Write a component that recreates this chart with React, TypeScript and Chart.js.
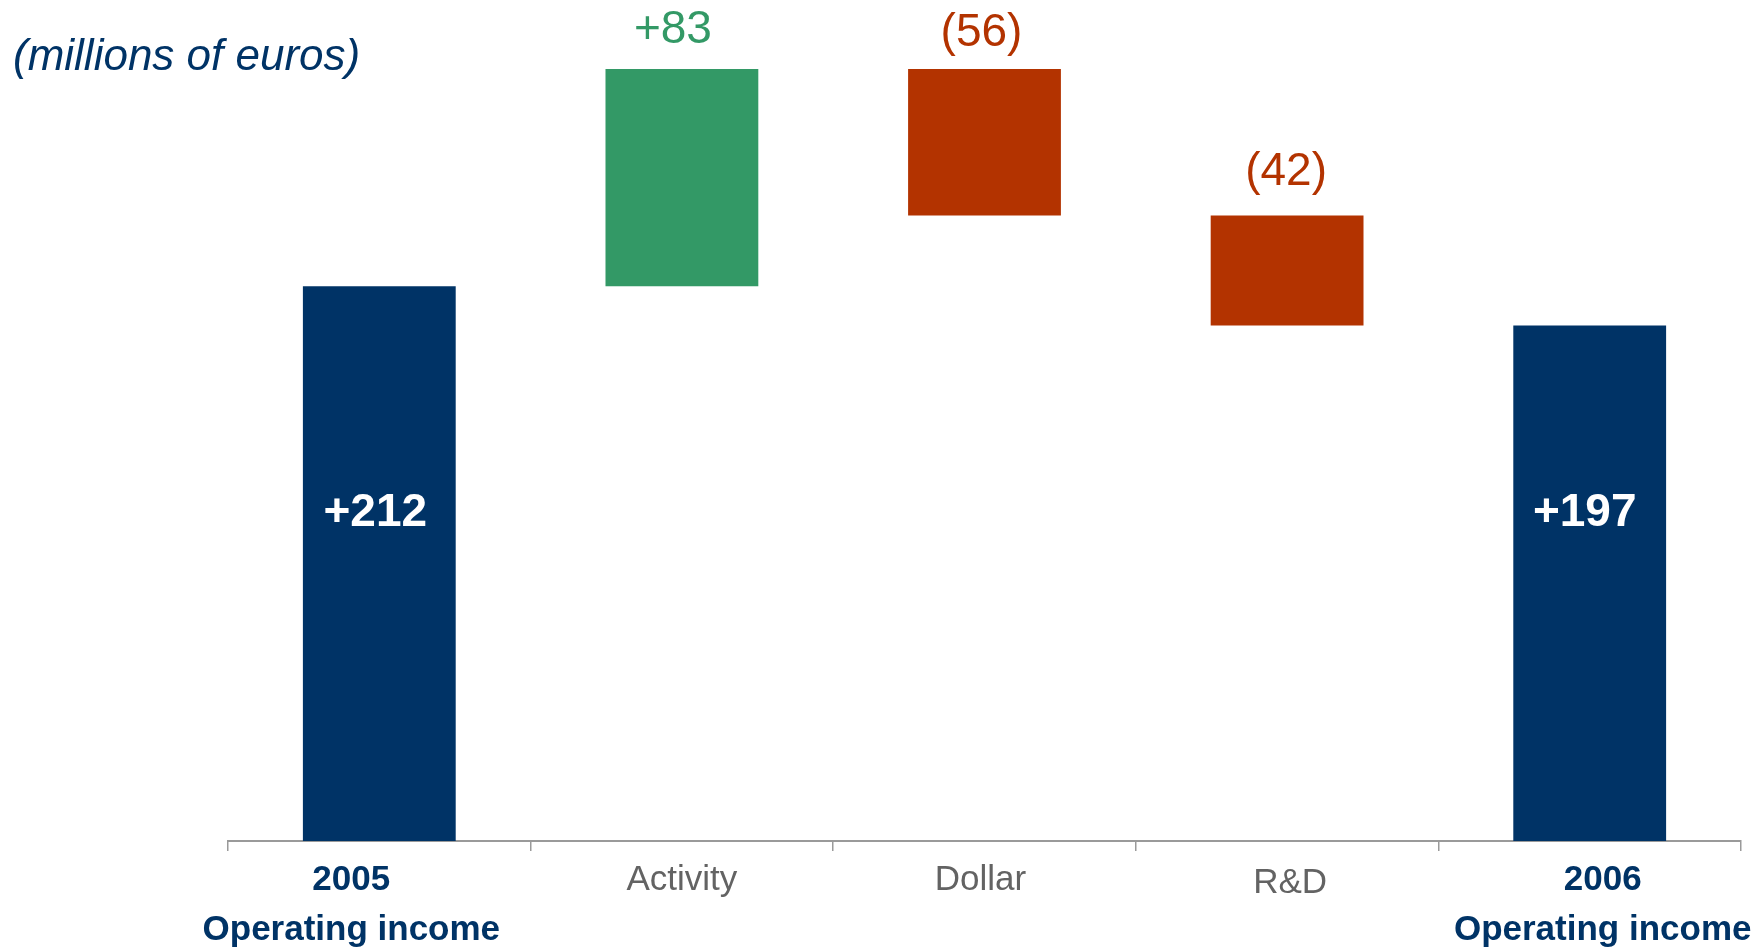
import React, { useEffect, useRef } from "react";
import { Chart, registerables } from "chart.js";

Chart.register(...registerables);

// ---- data ----
const categoryLines: string[][] = [
  ["2005", "Operating income"],
  ["Activity"],
  ["Dollar"],
  ["R&D"],
  ["2006", "Operating income"],
];
const openingIncome = 212;
const changes = [83, -56, -42];
const closingIncome = 197;
const valueLabels = ["+212", "+83", "(56)", "(42)", "+197"];
const unitLabel = "(millions of euros)";

// ---- styles ----
const NAVY = "#003366";
const GREEN = "#339966";
const RED = "#B33300";
const GRAY_TEXT = "#636363";
const AXIS = "#9a9a9a";
const FONT = "'Liberation Sans', Arial, Helvetica, sans-serif";

function buildBars(): [number, number][] {
  const bars: [number, number][] = [[0, openingIncome]];
  let level = openingIncome;
  for (const c of changes) {
    const next = level + c;
    bars.push([Math.min(level, next), Math.max(level, next)]);
    level = next;
  }
  bars.push([0, closingIncome]);
  return bars;
}

function buildColors(): string[] {
  return [NAVY, ...changes.map((c) => (c >= 0 ? GREEN : RED)), NAVY];
}

const labelsPlugin = {
  id: "waterfallLabels",
  afterDatasetsDraw(chart: any) {
    const ctx: CanvasRenderingContext2D = chart.ctx;
    const meta = chart.getDatasetMeta(0);
    const xScale = chart.scales.x;
    const area = chart.chartArea;
    const n = meta.data.length;
    ctx.save();

    // unit label
    ctx.font = `italic 44px ${FONT}`;
    ctx.fillStyle = NAVY;
    ctx.textAlign = "left";
    ctx.textBaseline = "alphabetic";
    ctx.fillText(unitLabel, 13, 70);

    // value labels
    const gaps = [0, 26, 23, 31, 0];
    const dxs = [-4, -9, -3, -1, -5];
    meta.data.forEach((bar: any, i: number) => {
      const { x, y, base } = bar.getProps(["x", "y", "base"], true);
      const isTotal = i === 0 || i === n - 1;
      ctx.textAlign = "center";
      if (isTotal) {
        ctx.font = `bold 46px ${FONT}`;
        ctx.fillStyle = "#ffffff";
        ctx.fillText(valueLabels[i], x + dxs[i], area.bottom - 315);
      } else {
        const top = Math.min(y, base);
        ctx.font = `46px ${FONT}`;
        ctx.fillStyle = changes[i - 1] >= 0 ? GREEN : RED;
        ctx.fillText(valueLabels[i], x + dxs[i], top - gaps[i]);
      }
    });

    // category labels
    const shifts = [-28, 0, -4, 3, 13];
    categoryLines.forEach((lines, i) => {
      const isTotal = i === 0 || i === n - 1;
      const cx = xScale.getPixelForValue(i) + shifts[i];
      ctx.textAlign = "center";
      if (isTotal) {
        ctx.font = `bold 35px ${FONT}`;
        ctx.fillStyle = NAVY;
      } else {
        ctx.font = `35px ${FONT}`;
        ctx.fillStyle = GRAY_TEXT;
      }
      lines.forEach((line, k) => {
        ctx.fillText(line, cx, area.bottom + 49 + k * 50 + (i === 3 ? 3 : 0));
      });
    });
    ctx.restore();
  },
};

export default function App() {
  const canvasRef = useRef<HTMLCanvasElement | null>(null);

  useEffect(() => {
    if (!canvasRef.current) return;
    const chart = new Chart(canvasRef.current, {
      type: "bar",
      data: {
        labels: categoryLines.map((l) => l.join(" ")),
        datasets: [
          {
            data: buildBars() as any,
            backgroundColor: buildColors(),
            borderWidth: 0,
            barPercentage: 0.505,
            categoryPercentage: 1,
          },
        ],
      },
      options: {
        responsive: false,
        animation: false,
        devicePixelRatio: 1,
        layout: { padding: { left: 228, right: 19, top: 56, bottom: 97 } },
        plugins: {
          legend: { display: false },
          tooltip: { enabled: false },
          title: { display: false },
        },
        scales: {
          x: {
            type: "category",
            offset: true,
            grid: {
              offset: true,
              drawOnChartArea: false,
              drawTicks: true,
              tickLength: 10,
              color: AXIS,
              lineWidth: 1.5,
            },
            border: { display: true, color: AXIS, width: 2 },
            ticks: { display: false },
          },
          y: {
            display: false,
            min: 0,
            max: 300,
          },
        },
      },
      plugins: [labelsPlugin],
    });
    return () => chart.destroy();
  }, []);

  return (
    <div
      style={{
        position: "fixed",
        left: 0,
        top: 0,
        width: 1760,
        height: 948,
        background: "#ffffff",
      }}
    >
      <canvas
        ref={canvasRef}
        width={1760}
        height={948}
        style={{ display: "block", width: 1760, height: 948 }}
      />
    </div>
  );
}
